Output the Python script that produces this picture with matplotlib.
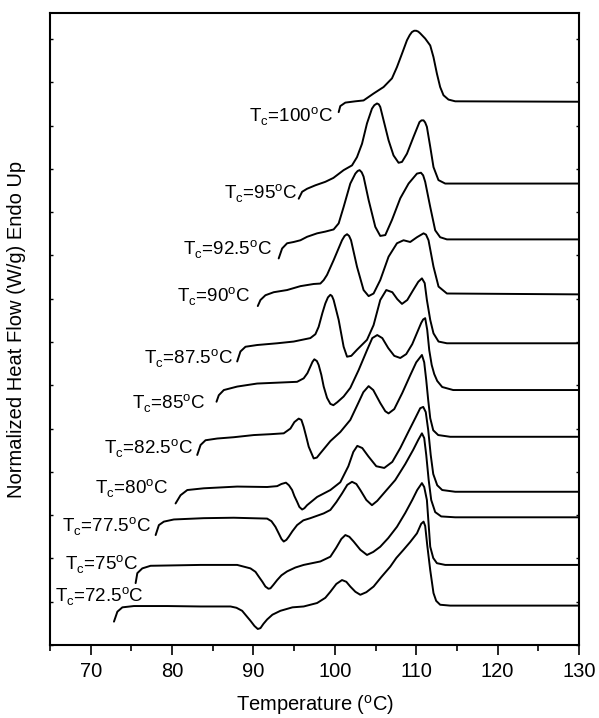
import matplotlib
matplotlib.use('Agg')
import matplotlib.pyplot as plt
import numpy as np
from matplotlib.ticker import MultipleLocator, NullFormatter

plt.rcParams['font.family'] = ['Liberation Sans', 'DejaVu Sans']
plt.rcParams['mathtext.fontset'] = 'custom'
plt.rcParams['mathtext.rm'] = 'Liberation Sans'

# crystallization temperatures, top curve first
tc_labels = ['100', '95', '92.5', '90', '87.5', '85', '82.5', '80', '77.5', '75', '72.5']
# vertical shift of each trace (W/g)
offsets = [12.55, 10.66, 9.37, 8.10, 6.97, 5.89, 4.81, 3.54, 2.95, 1.85, 0.91]

t100 = [100.47, 100.67, 101.29, 102.52, 103.53, 104.76, 105.99, 107.02, 107.63, 108.25, 108.86,
        109.20, 109.47, 109.75, 110.0, 110.25, 110.49, 111.10, 111.72, 112.12, 112.54, 112.94,
        113.35, 113.96, 114.79, 130]
h100 = [-0.24, -0.10, -0.02, 0.01, 0.03, 0.19, 0.34, 0.54, 0.80, 1.11, 1.42,
        1.54, 1.61, 1.64, 1.64, 1.62, 1.58, 1.46, 1.30, 1.03, 0.65, 0.34,
        0.15, 0.05, 0.01, 0]

t95 = [95.56, 95.98, 96.59, 97.61, 98.83, 99.82, 101.08, 102.11, 102.72, 103.34, 103.95, 104.56,
       104.85, 105.18, 105.40, 105.58, 105.99, 106.60, 107.21, 107.83, 108.25, 108.86, 109.67,
       110.40, 110.65, 110.90, 111.10, 111.31, 111.72, 112.12, 112.73, 113.56, 130]
h95 = [-0.35, -0.19, -0.12, -0.04, 0.04, 0.13, 0.31, 0.42, 0.61, 0.92, 1.39, 1.73,
       1.81, 1.85, 1.83, 1.77, 1.46, 1.00, 0.65, 0.48, 0.50, 0.69, 1.08,
       1.42, 1.46, 1.46, 1.41, 1.31, 0.85, 0.38, 0.08, 0, 0]

t925 = [93.10, 93.52, 94.13, 94.94, 95.77, 96.59, 97.82, 98.83, 99.85, 100.47, 101.08, 101.90,
        102.52, 102.80, 103.04, 103.30, 103.53, 104.15, 104.97, 105.58, 106.20, 107.02, 108.04,
        109.06, 110.09, 110.58, 110.85, 111.10, 111.72, 112.33, 112.94, 113.77, 130]
h925 = [-0.44, -0.21, -0.09, -0.06, -0.02, 0.06, 0.14, 0.18, 0.23, 0.37, 0.75, 1.29,
        1.52, 1.58, 1.60, 1.55, 1.45, 0.91, 0.29, 0.08, 0.10, 0.45, 0.95,
        1.29, 1.52, 1.54, 1.48, 1.33, 0.75, 0.21, 0.05, 0, 0]

t90 = [90.53, 90.86, 91.47, 92.49, 94.13, 95.77, 97.40, 98.22, 98.63, 99.04, 99.85, 100.88,
       101.20, 101.50, 101.75, 101.99, 102.72, 103.53, 104.15, 104.76, 105.58, 106.60, 107.63,
       108.44, 109.26, 110.09, 110.90, 111.20, 111.51, 112.12, 112.74, 113.77, 130]
h90 = [-0.27, -0.13, -0.02, 0.05, 0.10, 0.19, 0.24, 0.25, 0.33, 0.45, 0.79, 1.25,
       1.35, 1.39, 1.35, 1.25, 0.64, 0.10, -0.04, 0.02, 0.33, 0.87, 1.18,
       1.25, 1.21, 1.32, 1.41, 1.38, 1.25, 0.64, 0.18, 0.02, 0]

t875 = [88.0, 88.40, 89.02, 90.45, 92.91, 94.94, 96.99, 97.61, 98.01, 98.47, 98.83, 99.15,
        99.45, 99.65, 99.85, 100.47, 101.08, 101.50, 102.02, 102.72, 103.95, 104.76, 105.58,
        106.32, 107.06, 107.67, 108.25, 108.90, 109.63, 110.25, 110.70, 111.04, 111.31,
        111.72, 112.12, 112.74, 113.77, 130]
h875 = [-0.42, -0.19, -0.08, -0.04, 0, 0.04, 0.12, 0.21, 0.38, 0.70, 0.92, 1.06,
        1.12, 1.09, 1.00, 0.54, -0.08, -0.31, -0.29, -0.15, 0.08, 0.42, 1.00,
        1.23, 1.18, 1.02, 0.91, 1.00, 1.23, 1.42, 1.50, 1.39, 1.00,
        0.54, 0.23, 0.04, 0, 0]

t85 = [85.46, 85.74, 86.36, 88.0, 90.45, 92.91, 95.36, 96.17, 96.63, 96.99, 97.25, 97.48,
       97.79, 98.01, 98.34, 98.63, 99.04, 99.45, 99.82, 100.31, 101.08, 101.90, 102.92,
       103.95, 104.60, 105.21, 105.83, 106.56, 107.30, 108.04, 108.77, 109.51, 110.25,
       110.61, 110.85, 111.10, 111.35, 111.60, 111.90, 112.21, 112.58, 113.19, 114.54, 130]
h85 = [-0.27, -0.12, 0, 0.08, 0.15, 0.17, 0.19, 0.27, 0.39, 0.54, 0.65, 0.71,
       0.67, 0.58, 0.35, 0.08, -0.18, -0.32, -0.35, -0.28, -0.15, 0.05, 0.46,
       0.92, 1.20, 1.27, 1.20, 0.97, 0.79, 0.74, 0.83, 1.06, 1.39,
       1.55, 1.63, 1.66, 1.39, 0.92, 0.58, 0.37, 0.21, 0.07, 0, 0]

t825 = [83.09, 83.50, 84.11, 85.55, 87.58, 90.04, 92.09, 93.72, 94.54, 95.03, 95.56, 95.89,
        96.17, 96.50, 96.79, 97.40, 97.79, 98.22, 99.45, 100.67, 101.90, 102.88, 103.50,
        104.15, 104.72, 105.58, 106.20, 106.60, 107.30, 108.28, 109.26, 110.0, 110.70,
        110.98, 111.23, 111.47, 111.72, 112.09, 112.70, 114.17, 130]
h825 = [-0.42, -0.19, -0.08, -0.04, -0.01, 0.04, 0.06, 0.08, 0.19, 0.34, 0.42, 0.39,
        0.23, -0.01, -0.23, -0.50, -0.48, -0.38, -0.10, 0.11, 0.39, 0.78, 1.03,
        1.17, 1.08, 0.78, 0.59, 0.54, 0.64, 1.01, 1.42, 1.72, 1.89,
        1.72, 1.31, 0.85, 0.43, 0.15, 0.04, 0, 0]

t80 = [80.43, 81.04, 81.87, 83.90, 88.0, 91.68, 92.91, 93.44, 93.99, 94.36, 94.75, 95.03,
       95.36, 95.64, 95.98, 96.26, 96.59, 97.82, 99.45, 100.67, 101.66, 102.27, 102.76,
       103.37, 104.11, 105.09, 106.07, 107.06, 108.04, 109.02, 109.88, 110.49, 110.86,
       111.17, 111.47, 111.78, 112.09, 112.58, 113.19, 114.79, 130]
h80 = [-0.27, -0.08, 0.04, 0.08, 0.12, 0.11, 0.13, 0.18, 0.21, 0.15, 0.04, -0.10,
       -0.23, -0.35, -0.41, -0.38, -0.31, -0.12, 0.04, 0.22, 0.59, 0.92, 1.06,
       1.01, 0.82, 0.59, 0.55, 0.69, 1.01, 1.38, 1.70, 1.93, 1.96,
       1.84, 1.43, 0.85, 0.41, 0.15, 0.04, 0, 0]

t775 = [77.98, 78.38, 78.99, 80.22, 83.90, 87.58, 91.68, 92.21, 92.70, 93.10, 93.44, 93.72,
        94.05, 94.33, 94.79, 95.36, 96.13, 96.99, 98.63, 99.45, 100.18, 100.88, 101.53,
        102.11, 102.64, 103.13, 103.87, 104.56, 105.21, 105.99, 107.42, 108.65, 109.63,
        110.25, 110.70, 110.98, 111.23, 111.53, 111.84, 112.33, 113.07, 114.79, 130]
h775 = [-0.41, -0.18, -0.10, -0.05, -0.02, -0.01, -0.03, -0.09, -0.22, -0.37, -0.50, -0.56,
        -0.52, -0.45, -0.32, -0.18, -0.07, -0.02, 0.09, 0.17, 0.35, 0.55, 0.75,
        0.82, 0.77, 0.63, 0.40, 0.28, 0.38, 0.55, 0.86, 1.23, 1.56,
        1.79, 1.94, 1.83, 1.44, 0.86, 0.40, 0.12, 0.02, 0, 0]

t75 = [75.52, 75.73, 76.34, 77.36, 83.50, 88.0, 89.63, 90.25, 90.65, 91.10, 91.47, 91.84,
       92.09, 92.45, 92.91, 93.44, 94.13, 95.15, 96.17, 98.22, 99.45, 100.18, 100.80,
       101.29, 101.78, 102.31, 103.13, 103.95, 104.72, 105.58, 106.56, 107.63, 108.65,
       109.51, 110.12, 110.70, 110.98, 111.31, 111.53, 111.72, 112.09, 112.54, 113.56, 130]
h75 = [-0.42, -0.19, -0.08, -0.02, 0, 0, -0.08, -0.16, -0.27, -0.39, -0.50, -0.55,
       -0.54, -0.46, -0.35, -0.24, -0.15, -0.06, 0, 0.08, 0.19, 0.40, 0.60,
       0.69, 0.65, 0.54, 0.35, 0.23, 0.30, 0.42, 0.62, 0.88, 1.20,
       1.50, 1.73, 1.89, 1.80, 1.50, 0.92, 0.42, 0.16, 0.04, 0, 0]

t725 = [72.86, 73.28, 73.89, 75.31, 79.41, 83.50, 87.18, 87.91, 88.61, 89.14, 89.63, 90.12,
        90.53, 90.86, 91.23, 91.68, 92.33, 93.31, 94.79, 96.17, 97.82, 98.83, 99.45,
        100.18, 100.88, 101.41, 101.90, 102.52, 103.13, 103.87, 104.76, 105.71, 106.81,
        107.55, 108.44, 109.26, 110.09, 110.61, 110.90, 111.10, 111.35, 111.72, 112.12,
        112.45, 112.94, 114.17, 130]
h725 = [-0.37, -0.14, -0.04, -0.01, -0.01, -0.02, -0.02, -0.05, -0.12, -0.24, -0.35, -0.47,
        -0.54, -0.52, -0.42, -0.32, -0.21, -0.12, -0.04, -0.02, 0.06, 0.18, 0.32,
        0.50, 0.59, 0.55, 0.44, 0.32, 0.25, 0.31, 0.44, 0.66, 0.90,
        1.10, 1.29, 1.47, 1.67, 1.89, 1.94, 1.84, 1.40, 0.82, 0.29,
        0.11, 0.02, 0, 0]

temps = [t100, t95, t925, t90, t875, t85, t825, t80, t775, t75, t725]
flows = [h100, h95, h925, h90, h875, h85, h825, h80, h775, h75, h725]

# where each Tc label sits (right edge, text baseline)
label_pos = [(99.8, 12.09), (95.4, 10.31), (92.33, 9.02), (89.63, 7.93), (87.55, 6.50),
             (84.11, 5.46), (82.64, 4.42), (79.57, 3.50), (77.36, 2.62), (75.89, 1.74),
             (76.5, 1.00)]

fig = plt.figure(figsize=(5.99, 7.18), dpi=100)
ax = fig.add_axes([50 / 599, 1 - 645 / 718, 529 / 599, 632 / 718])

for t, h, off in zip(temps, flows, offsets):
    ax.plot(t, np.array(h) + off, color='black', lw=1.4,
            solid_joinstyle='round', solid_capstyle='round')

for tc, (lx, ly) in zip(tc_labels, label_pos):
    ax.text(lx, ly, r'T$_\mathregular{c}$=' + tc + r'$^\mathregular{o}$C',
            fontsize=13.5, ha='right', va='baseline')

ax.set_xlim(65, 130)
ax.set_ylim(0, 14.6)
ax.xaxis.set_major_locator(MultipleLocator(10))
ax.xaxis.set_minor_locator(MultipleLocator(5))
ax.yaxis.set_major_locator(MultipleLocator(1))
ax.yaxis.set_major_formatter(NullFormatter())
ax.tick_params(axis='x', which='major', direction='out', length=7, width=1.2,
               labelsize=14.5, pad=5, top=False)
ax.tick_params(axis='x', which='minor', direction='out', length=4.5, width=1.2, top=False)
ax.tick_params(axis='y', which='major', direction='in', length=2.5, width=1.0,
               left=True, right=True)
for s in ax.spines.values():
    s.set_linewidth(1.5)

ax.set_xlabel(r'Temperature ($^\mathregular{o}$C)', fontsize=14.5, labelpad=9)
ax.set_ylabel('Normalized Heat Flow (W/g) Endo Up', fontsize=14.5, labelpad=14)

fig.savefig('out.png', dpi=100)
